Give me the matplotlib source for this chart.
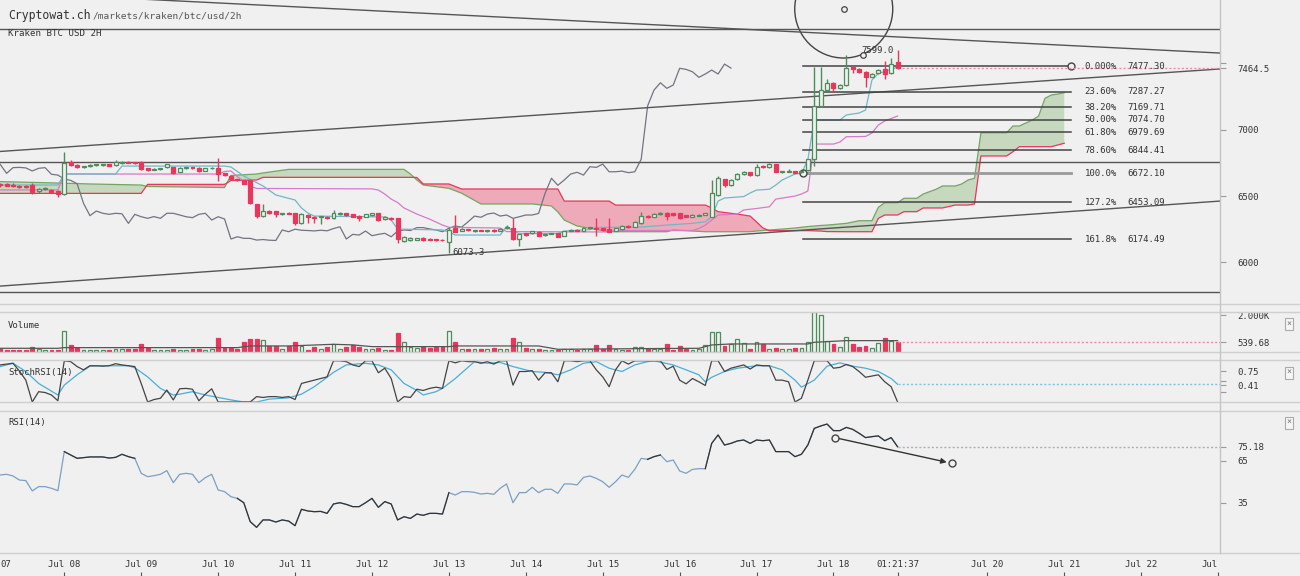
import numpy as np
import matplotlib.pyplot as plt
from matplotlib.patches import Ellipse
from matplotlib.lines import Line2D

plt.rcParams['font.family'] = ['DejaVu Sans Mono']

# 2h candles, Kraken BTC/USD, Jul 07 04:00 .. Jul 18 20:00 (bar index 0..140)
opens = [6592, 6590, 6586, 6578, 6576, 6583, 6535, 6553, 6545, 6538,
         6515, 6759, 6734, 6720, 6726, 6732, 6733, 6740, 6734, 6752,
         6760, 6756, 6759, 6709, 6700, 6702, 6719, 6719, 6683, 6711,
         6716, 6714, 6689, 6708, 6714, 6671, 6653, 6628, 6618, 6621,
         6437, 6350, 6387, 6387, 6366, 6372, 6370, 6294, 6357, 6344,
         6340, 6344, 6332, 6366, 6370, 6362, 6352, 6344, 6357, 6370,
         6327, 6337, 6332, 6161, 6168, 6170, 6181, 6176, 6172, 6170,
         6156, 6257, 6240, 6250, 6238, 6242, 6238, 6246, 6240, 6258,
         6262, 6176, 6219, 6219, 6231, 6205, 6214, 6219, 6201, 6240,
         6246, 6240, 6258, 6262, 6257, 6249, 6239, 6249, 6274, 6269,
         6294, 6349, 6344, 6362, 6374, 6369, 6369, 6357, 6344, 6352,
         6357, 6344, 6508, 6626, 6583, 6626, 6666, 6679, 6658, 6726,
         6716, 6741, 6680, 6683, 6688, 6680, 6696, 6777, 7179, 7299,
         7354, 7312, 7337, 7470, 7455, 7433, 7400, 7425, 7455, 7425,
         7510]
highs = [6600, 6598, 6595, 6585, 6582, 6596, 6560, 6565, 6552, 6542,
         6834, 6772, 6740, 6730, 6738, 6740, 6742, 6745, 6770, 6765,
         6764, 6760, 6762, 6712, 6710, 6712, 6745, 6722, 6722, 6722,
         6720, 6718, 6712, 6718, 6789, 6675, 6658, 6632, 6622, 6625,
         6442, 6437, 6392, 6390, 6375, 6376, 6375, 6370, 6362, 6348,
         6350, 6350, 6395, 6378, 6374, 6366, 6356, 6366, 6375, 6374,
         6350, 6342, 6336, 6200, 6190, 6185, 6190, 6180, 6176, 6174,
         6269, 6357, 6256, 6254, 6246, 6246, 6245, 6250, 6260, 6280,
         6337, 6215, 6224, 6240, 6236, 6215, 6224, 6223, 6240, 6250,
         6250, 6268, 6266, 6332, 6262, 6332, 6260, 6278, 6278, 6310,
         6382, 6354, 6370, 6378, 6380, 6374, 6373, 6360, 6362, 6362,
         6374, 6621, 6651, 6632, 6628, 6672, 6690, 6684, 6745, 6731,
         6748, 6745, 6690, 6705, 6692, 6690, 6782, 7475, 7475, 7380,
         7360, 7345, 7563, 7478, 7462, 7440, 7428, 7455, 7520, 7538,
         7599]
lows = [6570, 6572, 6570, 6560, 6560, 6513, 6525, 6545, 6530, 6495,
        6505, 6730, 6715, 6712, 6720, 6726, 6726, 6725, 6730, 6745,
        6748, 6745, 6700, 6688, 6695, 6698, 6715, 6664, 6678, 6705,
        6705, 6680, 6685, 6705, 6613, 6650, 6620, 6612, 6590, 6440,
        6334, 6345, 6365, 6340, 6360, 6362, 6285, 6290, 6300, 6300,
        6290, 6325, 6328, 6360, 6352, 6340, 6310, 6340, 6352, 6315,
        6322, 6322, 6143, 6150, 6160, 6165, 6162, 6166, 6163, 6160,
        6073, 6226, 6235, 6236, 6232, 6234, 6232, 6232, 6236, 6254,
        6170, 6125, 6200, 6215, 6196, 6200, 6210, 6188, 6196, 6236,
        6236, 6236, 6254, 6200, 6240, 6228, 6235, 6245, 6262, 6265,
        6290, 6336, 6340, 6358, 6319, 6352, 6328, 6340, 6340, 6350,
        6354, 6340, 6500, 6570, 6578, 6620, 6660, 6652, 6654, 6712,
        6712, 6678, 6676, 6680, 6672, 6675, 6692, 6726, 7170, 7290,
        7287, 7305, 7330, 7425, 7430, 7324, 7395, 7420, 7380, 7420,
        7460]
closes = [6580, 6578, 6575, 6568, 6566, 6532, 6553, 6558, 6533, 6513,
          6747, 6734, 6719, 6726, 6734, 6736, 6737, 6730, 6759, 6760,
          6752, 6750, 6704, 6694, 6704, 6706, 6739, 6671, 6714, 6716,
          6712, 6689, 6709, 6714, 6664, 6658, 6628, 6618, 6593, 6445,
          6352, 6387, 6370, 6362, 6370, 6366, 6294, 6362, 6344, 6332,
          6345, 6332, 6370, 6370, 6357, 6344, 6337, 6362, 6370, 6319,
          6344, 6327, 6176, 6193, 6181, 6181, 6168, 6172, 6167, 6165,
          6244, 6231, 6250, 6242, 6240, 6237, 6242, 6238, 6255, 6268,
          6176, 6211, 6206, 6236, 6201, 6211, 6219, 6193, 6236, 6244,
          6240, 6262, 6262, 6252, 6244, 6231, 6257, 6274, 6266, 6306,
          6349, 6340, 6364, 6372, 6349, 6357, 6332, 6344, 6357, 6357,
          6369, 6520, 6634, 6581, 6621, 6666, 6679, 6658, 6721, 6716,
          6741, 6683, 6683, 6688, 6676, 6683, 6777, 7179, 7299, 7354,
          7312, 7337, 7463, 7455, 7437, 7395, 7420, 7450, 7420, 7495,
          7464.5]
volumes = [162, 126, 126, 126, 126, 270, 162, 126, 126, 126,
           1170, 378, 216, 126, 126, 126, 126, 126, 162, 162,
           198, 162, 450, 216, 126, 126, 126, 162, 126, 126,
           162, 162, 126, 162, 756, 216, 216, 162, 576, 702,
           702, 666, 342, 342, 162, 342, 558, 342, 126, 306,
           162, 306, 432, 162, 306, 378, 270, 162, 162, 234,
           126, 126, 1026, 576, 270, 216, 306, 216, 306, 270,
           1170, 540, 162, 162, 162, 162, 162, 252, 162, 162,
           756, 576, 252, 162, 162, 126, 126, 126, 162, 162,
           126, 162, 162, 378, 162, 378, 162, 126, 126, 306,
           306, 162, 162, 198, 450, 126, 342, 162, 126, 162,
           414, 1080, 1080, 342, 450, 702, 486, 198, 540, 432,
           162, 234, 198, 198, 234, 216, 540, 2160, 2016, 630,
           432, 270, 810, 432, 270, 360, 216, 486, 756, 630,
           539.68]
stoch_k = [0.90, 0.92, 0.94, 0.75, 0.53, 0.00, 0.25, 0.23, 0.17, 0.03,
           1.00, 0.98, 0.86, 0.78, 0.88, 0.88, 0.87, 0.88, 0.93, 0.90,
           0.88, 0.86, 0.45, 0.00, 0.06, 0.09, 0.29, 0.05, 0.32, 0.33,
           0.31, 0.03, 0.19, 0.32, 0.00, 0.00, 0.00, 0.00, 0.00, 0.00,
           0.13, 0.11, 0.13, 0.13, 0.11, 0.13, 0.06, 0.45, 0.49, 0.53,
           0.57, 0.61, 1.00, 1.00, 0.98, 0.90, 0.86, 1.00, 1.00, 0.71,
           0.82, 0.57, 0.00, 0.13, 0.11, 0.31, 0.28, 0.33, 0.36, 0.33,
           1.00, 0.95, 1.00, 0.98, 0.98, 0.94, 0.98, 0.92, 1.00, 1.00,
           0.41, 0.74, 0.74, 0.76, 0.53, 0.71, 0.71, 0.49, 1.00, 1.00,
           0.98, 1.00, 1.00, 0.78, 0.61, 0.37, 0.78, 1.00, 0.92, 1.00,
           1.00, 1.00, 1.00, 1.00, 0.79, 0.87, 0.53, 0.44, 0.57, 0.49,
           0.40, 1.00, 1.00, 0.74, 0.82, 0.86, 0.90, 0.80, 0.90, 0.88,
           0.88, 0.53, 0.53, 0.49, 0.00, 0.09, 0.53, 1.00, 1.00, 1.00,
           0.82, 0.84, 0.91, 0.86, 0.74, 0.60, 0.63, 0.66, 0.49, 0.37,
           0.00]
rsi = [55.0, 55.5, 54.3, 51.4, 51.0, 43.6, 46.7, 46.7, 45.5, 43.8,
       71.7, 69.3, 66.9, 67.4, 67.9, 67.9, 67.9, 67.1, 67.6, 69.8,
       68.1, 66.9, 56.2, 53.8, 54.5, 55.5, 58.1, 49.5, 55.5, 56.2,
       55.5, 49.5, 53.1, 55.5, 44.3, 43.1, 39.5, 38.3, 35.2, 21.7,
       17.6, 22.9, 22.9, 21.4, 22.9, 22.1, 18.8, 30.5, 29.3, 28.8,
       29.0, 27.6, 34.3, 35.2, 34.0, 32.4, 32.4, 35.2, 38.3, 31.9,
       36.0, 34.3, 22.9, 25.2, 24.0, 27.1, 26.2, 27.6, 27.6, 27.1,
       42.4, 40.7, 43.1, 43.1, 42.6, 41.4, 41.9, 41.2, 45.5, 48.6,
       35.2, 42.4, 42.4, 46.2, 42.4, 44.8, 44.8, 41.9, 48.6, 48.6,
       47.9, 53.3, 54.3, 52.6, 50.2, 46.2, 50.2, 55.0, 53.3, 59.0,
       66.9, 66.2, 68.1, 69.3, 64.5, 65.7, 57.9, 56.2, 59.0, 59.5,
       59.5, 77.6, 83.6, 76.4, 77.6, 79.3, 80.0, 77.6, 80.0, 79.5,
       80.0, 71.7, 71.7, 71.7, 68.1, 69.8, 76.4, 88.3, 90.0, 91.4,
       86.7, 86.7, 89.0, 87.6, 84.8, 81.7, 82.4, 82.9, 79.5, 81.7,
       75.18]
# bar ranges where the RSI line is drawn dark instead of blue
rsi_dark_ranges = [(10, 21), (37, 70), (101, 103), (110, 140)]

# Ichimoku lines as (bar, price) break points
tenkan_bars = [0, 9, 10, 18, 19, 35, 36, 38, 41, 43, 46, 47, 48, 49, 60, 61, 62, 69,
               70, 71, 78, 79, 80, 81, 87, 88, 92, 93, 100, 104, 108, 110, 111, 112,
               113, 116, 117, 118, 120, 121, 122, 124, 125, 126, 127, 131, 132, 134,
               135, 136, 137, 139, 140]
tenkan_vals = [6583, 6583, 6666, 6666, 6726, 6726, 6719, 6651, 6576, 6508, 6470, 6410,
               6372, 6349, 6342, 6319, 6251, 6244, 6229, 6206, 6206, 6269, 6236, 6217,
               6217, 6236, 6247, 6263, 6266, 6281, 6294, 6306, 6344, 6462, 6485, 6496,
               6523, 6545, 6551, 6583, 6621, 6666, 6671, 6772, 7073, 7073, 7111, 7126,
               7148, 7375, 7424, 7454, 7473]
kijun_bars = [0, 9, 10, 34, 35, 36, 37, 39, 40, 58, 59, 60, 61, 62, 63, 65, 67, 69, 70,
              78, 79, 95, 96, 108, 109, 110, 111, 112, 115, 116, 118, 120, 121, 124,
              125, 126, 127, 130, 131, 132, 135, 136, 137, 138, 140]
kijun_vals = [6546, 6546, 6666, 6666, 6685, 6689, 6647, 6575, 6557, 6554, 6545, 6515,
              6477, 6451, 6410, 6364, 6326, 6281, 6264, 6259, 6232, 6229, 6240, 6240,
              6255, 6281, 6319, 6357, 6364, 6395, 6406, 6419, 6477, 6500, 6515, 6538,
              6892, 6892, 6907, 6947, 6949, 6975, 7035, 7066, 7103]
cloud_bars = [0, 9, 14, 22, 23, 35, 36, 40, 41, 45, 63, 64, 65, 66, 70, 72, 75, 83, 86,
              87, 88, 90, 95, 96, 104, 105, 110, 111, 112, 115, 117, 118, 119, 120, 122,
              124, 126, 128, 129, 132, 134, 136, 137, 138, 140, 141, 143, 144, 146, 147,
              149, 150, 151, 152, 153, 157, 158, 159, 161, 162, 163, 164, 165, 166]
span_a = [6609, 6598, 6591, 6583, 6572, 6564, 6655, 6666, 6674, 6701, 6701, 6666,
          6621, 6583, 6558, 6521, 6440, 6440, 6425, 6380, 6319, 6274, 6231, 6231,
          6231, 6244, 6231, 6231, 6231, 6231, 6231, 6236, 6240, 6244, 6251, 6259,
          6270, 6278, 6281, 6294, 6314, 6314, 6415, 6450, 6450, 6483, 6483, 6515,
          6551, 6576, 6576, 6591, 6621, 6634, 6977, 6977, 7028, 7028, 7073, 7103,
          7237, 7262, 7269, 7279]
span_b = [6520, 6520, 6520, 6520, 6588, 6588, 6617, 6621, 6641, 6641, 6641, 6641,
          6640, 6591, 6591, 6553, 6553, 6553, 6553, 6553, 6462, 6462, 6462, 6432,
          6432, 6432, 6432, 6410, 6382, 6364, 6349, 6304, 6259, 6239, 6239, 6239,
          6239, 6236, 6232, 6231, 6231, 6231, 6332, 6357, 6357, 6382, 6382, 6410,
          6410, 6410, 6432, 6432, 6432, 6440, 6802, 6802, 6834, 6872, 6872, 6872,
          6872, 6872, 6885, 6898]
chikou_shift = 26

# volume moving average (bar, volume)
vol_ma_bars = [0, 9, 10, 37, 39, 45, 52, 55, 58, 70, 71, 84, 87, 101, 109, 111, 114,
               126, 127, 132, 140]
vol_ma_vals = [216, 216, 252, 252, 342, 342, 432, 400, 306, 306, 342, 342, 162, 200,
               216, 396, 450, 450, 540, 630, 630]
# stoch %D (bar, value)
stoch_d_bars = [0, 2, 4, 6, 9, 10, 12, 14, 16, 20, 21, 23, 25, 27, 28, 30, 32, 34, 36,
                38, 40, 42, 45, 47, 49, 51, 52, 54, 57, 59, 61, 63, 65, 66, 68, 69, 71,
                74, 76, 78, 80, 83, 85, 87, 89, 91, 93, 95, 97, 99, 101, 102, 105, 107,
                109, 110, 111, 113, 115, 118, 120, 122, 124, 125, 127, 129, 131, 133,
                135, 137, 139, 140]
stoch_d_vals = [0.86, 0.94, 0.74, 0.45, 0.17, 0.41, 0.66, 0.87, 0.88, 0.88, 0.83, 0.61,
                0.33, 0.17, 0.19, 0.25, 0.17, 0.11, 0.05, 0.00, 0.00, 0.07, 0.10, 0.19,
                0.37, 0.60, 0.72, 0.90, 0.94, 0.90, 0.78, 0.45, 0.28, 0.17, 0.25, 0.33,
                0.57, 0.98, 0.94, 0.96, 0.86, 0.74, 0.72, 0.66, 0.78, 0.94, 0.98, 0.82,
                0.74, 0.90, 0.98, 1.00, 0.90, 0.78, 0.66, 0.49, 0.60, 0.74, 0.82, 0.88,
                0.88, 0.78, 0.53, 0.36, 0.53, 0.87, 0.95, 0.87, 0.82, 0.74, 0.57, 0.43]

# fibonacci retracement
fib_pct = ['0.000%', '23.60%', '38.20%', '50.00%', '61.80%', '78.60%', '100.0%', '127.2%', '161.8%']
fib_vals = [7477.30, 7287.27, 7169.71, 7074.70, 6979.69, 6844.41, 6672.10, 6453.09, 6174.49]

# x axis labels (bar index -> text); the outermost ones are cut by the chart edges
tick_bars = [0.8, 10, 22, 34, 46, 58, 70, 82, 94, 106, 118, 130, 140, 154, 166, 178, 188.6]
tick_text = ['07', 'Jul 08', 'Jul 09', 'Jul 10', 'Jul 11', 'Jul 12', 'Jul 13', 'Jul 14',
             'Jul 15', 'Jul 16', 'Jul 17', 'Jul 18', '01:21:37', 'Jul 20', 'Jul 21',
             'Jul 22', 'Jul']
tick_marks = [10, 22, 34, 46, 58, 70, 82, 94, 106, 118, 130, 140, 154, 166, 178, 190]

# ---------------------------------------------------------------- styling
W, H = 1300, 576
BG = '#f0f0f0'
RED = '#e8365d'
GREEN = '#4f8c5c'
TXT = '#333333'
XMIN, XMAX = -0.03, 190.3
AXW = 1220 / W

opens, highs, lows, closes = map(np.array, (opens, highs, lows, closes))
volumes = np.array(volumes)
idx = np.arange(len(closes))
up = closes >= opens
last = idx[-1]

fig = plt.figure(figsize=(13, 5.76), dpi=100, facecolor=BG)


def panel(top, bottom):
    ax = fig.add_axes([0, 1 - bottom / H, AXW, (bottom - top) / H])
    ax.set_facecolor('none')
    for s in ax.spines.values():
        s.set_visible(False)
    ax.set_xlim(XMIN, XMAX)
    ax.tick_params(axis='x', bottom=False, labelbottom=False)
    ax.yaxis.tick_right()
    ax.tick_params(axis='y', length=4.3, width=0.8, color='#999999',
                   labelsize=6.5, labelcolor=TXT, pad=8)
    return ax


# ---------------------------------------------------------------- price panel
ax = panel(0, 304)
ax.set_ylim(5686, 7978)

a = np.array(span_a)
b = np.array(span_b)
ax.fill_between(cloud_bars, a, b, where=a >= b, interpolate=True, color='#c6d8bd', lw=0)
ax.fill_between(cloud_bars, a, b, where=a < b, interpolate=True, color='#eeaab8', lw=0)
ax.plot(cloud_bars, span_a, color='#74a663', lw=0.9)
ax.plot(cloud_bars, span_b, color=RED, lw=0.9)

ax.plot(idx[:-chikou_shift], closes[chikou_shift:], color='#737383', lw=0.9)
ax.plot(kijun_bars, kijun_vals, color='#d67bc5', lw=0.9)
ax.plot(tenkan_bars, tenkan_vals, color='#6fb8c8', lw=0.9)

# user drawn lines
ax.axhline(7759, color='#555555', lw=1)
ax.axhline(6754, color='#555555', lw=1)
ax.axhline(5780, color='#555555', lw=1)
ax.plot([XMIN, XMAX], [8038, 7578], color='#555555', lw=1)
ax.plot([XMIN, XMAX], [6836, 7458], color='#555555', lw=1)
ax.plot([XMIN, XMAX], [5821, 6462], color='#555555', lw=1)
ax.add_patch(Ellipse((131.6, 7910), 2 * 49 / 6.41, 2 * 49 * 7.54, fill=False,
                     ec='#444444', lw=1))
ax.plot([131.6], [7910], 'o', ms=4, mfc=BG, mec='#444444', mew=0.9)

# fibonacci
fib_start, fib_end = 125.2, 167.1
for pct, v in zip(fib_pct, fib_vals):
    if pct == '100.0%':
        ax.plot([fib_start, fib_end], [v, v], color='#9a9a9a', lw=2)
    else:
        ax.plot([fib_start, fib_end], [v, v], color='#444444', lw=1.1)
    ax.text(169.2, v, pct, fontsize=6.5, color=TXT, va='center', ha='left')
    ax.text(175.8, v, '%.2f' % v, fontsize=6.5, color=TXT, va='center', ha='left')
ax.plot([fib_start, fib_end], [fib_vals[6], fib_vals[0]], 'o', ms=5, mfc=BG,
        mec='#444444', mew=1)

# candles
ax.vlines(idx[up], lows[up], highs[up], color=GREEN, lw=1, zorder=3)
ax.vlines(idx[~up], lows[~up], highs[~up], color=RED, lw=1, zorder=3)
body_lo = np.minimum(opens, closes)
body_h = np.maximum(np.abs(closes - opens), 6)
ax.bar(idx[up], body_h[up], bottom=body_lo[up], width=0.62, facecolor=BG,
       edgecolor=GREEN, lw=0.9, zorder=4)
ax.bar(idx[~up], body_h[~up], bottom=body_lo[~up], width=0.62, facecolor=RED,
       edgecolor=RED, lw=0.9, zorder=4)

ax.plot([last, XMAX], [closes[-1]] * 2, color='#f08ca2', lw=1, ls=(0, (1.5, 1.5)))
ax.text(70.6, lows.min(), '6073.3', fontsize=6.5, color=TXT, va='center', ha='left')
ax.plot([134.6], [7563], 'o', ms=4, mfc=BG, mec='#444444', mew=0.9)
ax.text(134.4, highs.max(), '%.1f' % highs.max(), fontsize=6.5, color=TXT,
        va='center', ha='left')

ax.set_yticks([6000, 6500, 7000, closes[-1], 7500])
ax.set_yticklabels(['6000', '6500', '7000', '%.1f' % closes[-1], ''])
ax.yaxis.get_major_ticks()[3].tick2line.set_color(RED)

fig.text(8 / W, 1 - 16 / H, 'Cryptowat.ch', fontsize=8.3, color=TXT, va='center')
fig.text(93 / W, 1 - 16 / H, '/markets/kraken/btc/usd/2h', fontsize=6.8,
         color='#555555', va='center')
fig.text(8 / W, 1 - 34 / H, 'Kraken BTC USD 2H', fontsize=6.6, color=TXT, va='center')

# ---------------------------------------------------------------- volume
axv = panel(312, 352.3)
axv.set_ylim(0, 2175)
axv.bar(idx[up], volumes[up], width=0.6, facecolor=BG, edgecolor=GREEN, lw=0.9)
axv.bar(idx[~up], volumes[~up], width=0.6, facecolor=RED, edgecolor=RED, lw=0.9)
axv.plot(vol_ma_bars, vol_ma_vals, color='#555555', lw=0.9)
axv.plot([last, XMAX], [volumes[-1]] * 2, color='#f08ca2', lw=1, ls=(0, (1.5, 1.5)))
axv.set_yticks([volumes[-1], 2000])
axv.set_yticklabels(['%.2f' % volumes[-1], '2.000K'])
axv.yaxis.get_major_ticks()[0].tick2line.set_color('#f08ca2')
fig.text(8 / W, 1 - 325 / H, 'Volume', fontsize=6.5, color=TXT, va='center')

# ---------------------------------------------------------------- stoch rsi
axs = panel(358, 404)
axs.set_ylim(-0.049, 1.068)
axs.plot(stoch_d_bars, stoch_d_vals, color='#4aaed6', lw=0.9)
axs.plot(idx, stoch_k, color='#444444', lw=0.9)
axs.plot([last, XMAX], [stoch_d_vals[-1]] * 2, color='#7cc4e0', lw=1, ls=(0, (1.5, 1.5)))
axs.set_yticks([0.25, 0.41, 0.5, 0.75])
axs.set_yticklabels(['', '0.41', '', '0.75'])
axs.yaxis.get_major_ticks()[1].tick2line.set_color('#4aaed6')
fig.text(8 / W, 1 - 372 / H, 'StochRSI(14)', fontsize=6.5, color=TXT, va='center')

# ---------------------------------------------------------------- rsi
axr = panel(411, 553.3)
axr.set_ylim(-0.93, 100.71)
axr.plot(idx, rsi, color='#7aa0c4', lw=0.9)
for s, e in rsi_dark_ranges:
    axr.plot(idx[s:e + 1], rsi[s:e + 1], color='#333333', lw=0.9)
axr.plot([last, XMAX], [rsi[-1]] * 2, color='#b0b0b0', lw=1, ls=(0, (1.5, 1.5)))
axr.annotate('', xy=(148.3, 63.5), xytext=(130.3, 81.6),
             arrowprops=dict(arrowstyle='-|>', color='#333333', lw=1,
                             shrinkA=3, shrinkB=3, mutation_scale=8))
axr.plot([130.3, 148.5], [81.6, 63.4], 'o', ms=5, mfc=BG, mec='#444444', mew=1)
axr.set_yticks([35, 65, rsi[-1]])
axr.set_yticklabels(['35', '65', '%.2f' % rsi[-1]])
fig.text(8 / W, 1 - 423 / H, 'RSI(14)', fontsize=6.5, color=TXT, va='center')

# ---------------------------------------------------------------- time axis
axt = fig.add_axes([0, 0, AXW, 22.7 / H])
axt.set_facecolor('none')
for s in axt.spines.values():
    s.set_visible(False)
axt.set_xlim(XMIN, XMAX)
axt.set_ylim(0, 1)
axt.set_yticks([])
axt.set_xticks(tick_marks)
axt.tick_params(axis='x', direction='in', length=3, width=0.8, color='#555555',
                labelbottom=False)
for t, s in zip(tick_bars, tick_text):
    axt.text(t, 0.5, s, fontsize=6.5, color=TXT, ha='center', va='center')

# separators, right border, close buttons
for y in (304, 312, 352.3, 360, 402.3, 411, 553.3):
    fig.add_artist(Line2D([0, 1], [1 - y / H] * 2, transform=fig.transFigure,
                          color='#cfcfcf', lw=1))
fig.add_artist(Line2D([AXW] * 2, [1 - 553.3 / H, 1], transform=fig.transFigure,
                      color='#c4c4c4', lw=1))
for y in (324, 372.7, 422.7):
    fig.text(1289 / W, 1 - y / H, '×', fontsize=6, color='#777777', ha='center',
             va='center', bbox=dict(boxstyle='square,pad=0.2', fc='#f6f6f6',
                                    ec='#aaaaaa', lw=0.8))

fig.savefig('out.png', dpi=100, facecolor=BG)
